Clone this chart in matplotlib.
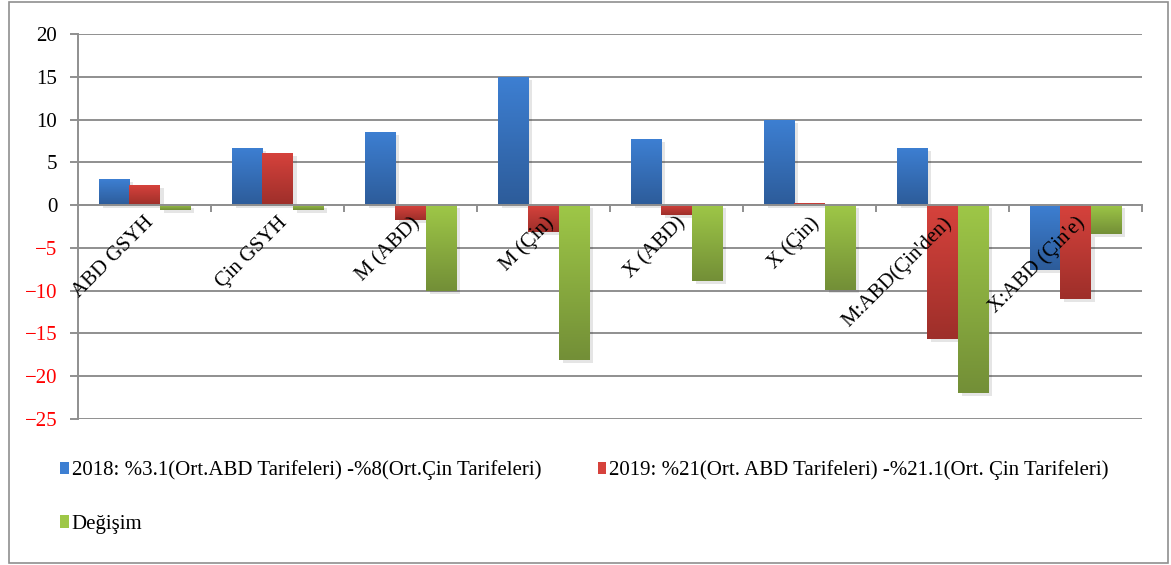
import matplotlib
matplotlib.use("Agg")
import matplotlib.pyplot as plt
import numpy as np
from matplotlib.colors import LinearSegmentedColormap
from matplotlib.patches import Rectangle

# ── Data ────────────────────────────────────────────────────────────
categories = ["ABD GSYH", "Çin GSYH", "M (ABD)", "M (Çin)", "X (ABD)",
              "X (Çin)", "M:ABD(Çin'den)", "X:ABD (Çin'e)"]
y2018 = [3.0, 6.7, 8.6, 15.0, 7.7, 10.0, 6.7, -7.6]
y2019 = [2.3, 6.1, -1.7, -3.1, -1.2, 0.2, -15.7, -11.0]
change = [-0.6, -0.6, -10.0, -18.1, -8.9, -9.9, -22.0, -3.4]

labels = ["2018: %3.1(Ort.ABD Tarifeleri) -%8(Ort.Çin Tarifeleri)",
          "2019: %21(Ort. ABD Tarifeleri) -%21.1(Ort. Çin Tarifeleri)",
          "Değişim"]
# (top colour, bottom colour) for the gradient fill
grads = [("#3d7fd2", "#2d5c9a"), ("#d6423c", "#9e2f2a"), ("#9ec747", "#738f37")]

plt.rcParams['font.family'] = ['Liberation Serif', 'DejaVu Serif']
grid_c = "#8f8f8f"
fs = 15

# ── Plot ────────────────────────────────────────────────────────────
fig = plt.figure(figsize=(11.71, 5.65), dpi=100)
ax = fig.add_axes([78 / 1171, 1 - 419 / 565, (1142 - 78) / 1171, (419 - 34) / 565])

x = np.arange(len(categories))
w = 0.23
handles = []
for k, (vals, (top_c, bot_c), lab) in enumerate(zip([y2018, y2019, change], grads, labels)):
    bars = ax.bar(x + (k - 1) * w, vals, w, color=top_c, label=lab, zorder=2)
    cmap = LinearSegmentedColormap.from_list("g%d" % k, [bot_c, top_c])
    grad = np.linspace(0, 1, 64).reshape(-1, 1)
    for b in bars:
        x0, y0, bw, bh = b.get_x(), b.get_y(), b.get_width(), b.get_height()
        lo, hi = min(y0, y0 + bh), max(y0, y0 + bh)
        # soft shadow
        ax.add_patch(Rectangle((x0 + 0.03, lo - 0.35), bw, hi - lo, color="#000000",
                               alpha=0.10, lw=0, zorder=1.5))
        im = ax.imshow(grad, cmap=cmap, extent=[x0, x0 + bw, lo, hi], origin="lower",
                       aspect="auto", zorder=2.1, interpolation="bilinear")
        im.set_clip_path(b)
    handles.append(bars)

ax.set_xlim(-0.5, len(categories) - 0.5)
ax.set_ylim(-25, 20)
ax.set_aspect("auto")

# ── Axes styling ────────────────────────────────────────────────────
ax.set_axisbelow(True)
ax.xaxis.set_zorder(5)
ax.set_yticks(np.arange(-25, 21, 5))
ax.yaxis.grid(True, color=grid_c, linewidth=1.4)
ax.tick_params(axis="y", length=6, width=1.4, color=grid_c, labelsize=fs, pad=9)
for t, v in zip(ax.get_yticklabels(), np.arange(-25, 21, 5)):
    t.set_color("red" if v < 0 else "black")

for s in ["top", "right"]:
    ax.spines[s].set_visible(False)
ax.spines["left"].set_color(grid_c)
ax.spines["left"].set_linewidth(1.4)
ax.spines["bottom"].set_position(("data", 0))
ax.spines["bottom"].set_color(grid_c)
ax.spines["bottom"].set_linewidth(1.4)

ax.set_xticks(x)
ax.set_xticklabels(categories, rotation=45, ha="right", rotation_mode="anchor", fontsize=fs)
ax.tick_params(axis="x", which="major", length=0, pad=6)
ax.set_xticks(np.arange(0.5, len(categories), 1), minor=True)
ax.tick_params(axis="x", which="minor", length=5, width=1.4, color=grid_c, direction="out")

# ── Legend ──────────────────────────────────────────────────────────
# column-major fill: blue + green in first column, red in second
fig.legend(handles=[handles[0], handles[2], handles[1]],
           loc="upper left", bbox_to_anchor=(52 / 1171, 1 - 452 / 565),
           ncol=2, frameon=False, fontsize=fs, handlelength=0.4, handleheight=0.55,
           handletextpad=0.15, columnspacing=2.7, labelspacing=1.65, borderaxespad=0)

# figure frame
fig.patches.append(Rectangle((9 / 1171, 2 / 565), 1159 / 1171, 561 / 565, transform=fig.transFigure,
                             fill=False, edgecolor=grid_c, linewidth=1.2))

fig.savefig("out.png", dpi=100)
